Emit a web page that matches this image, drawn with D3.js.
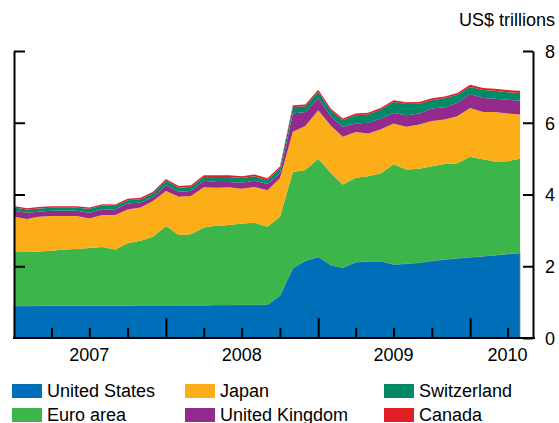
<!DOCTYPE html>
<html>
<head>
<meta charset="utf-8">
<script src="https://cdn.jsdelivr.net/npm/d3@7"></script>
<style>
  html, body { margin: 0; padding: 0; background: #fff; }
  svg { display: block; font-family: "Liberation Sans", Arial, Helvetica, sans-serif; }
</style>
</head>
<body>
<svg id="chart" width="559" height="423"></svg>
<script>
// ---- Data (US$ trillions, monthly) ----
const months = ["2007-01","2007-02","2007-03","2007-04","2007-05","2007-06","2007-07","2007-08","2007-09","2007-10","2007-11","2007-12",
  "2008-01","2008-02","2008-03","2008-04","2008-05","2008-06","2008-07","2008-08","2008-09","2008-10","2008-11","2008-12",
  "2009-01","2009-02","2009-03","2009-04","2009-05","2009-06","2009-07","2009-08","2009-09","2009-10","2009-11","2009-12",
  "2010-01","2010-02","2010-03","2010-04","2010-05"];

const unitedStates = [0.90,0.89,0.90,0.90,0.90,0.90,0.90,0.90,0.90,0.90,0.91,0.91,0.91,0.91,0.91,0.91,0.92,0.92,0.93,0.93,0.93,1.18,1.95,2.15,2.26,2.03,1.96,2.11,2.14,2.14,2.05,2.07,2.10,2.15,2.19,2.22,2.25,2.28,2.31,2.34,2.37];
const euroArea     = [1.50,1.51,1.51,1.53,1.57,1.58,1.61,1.64,1.57,1.74,1.80,1.91,2.21,1.96,1.98,2.17,2.21,2.23,2.26,2.28,2.17,2.20,2.68,2.53,2.74,2.56,2.32,2.36,2.37,2.45,2.79,2.63,2.62,2.64,2.66,2.65,2.80,2.70,2.61,2.59,2.63];
const japan        = [0.98,0.92,0.97,0.97,0.93,0.92,0.82,0.89,0.96,0.94,0.93,1.00,0.98,1.07,1.07,1.12,1.06,1.05,0.97,1.00,1.02,1.07,1.12,1.23,1.35,1.32,1.33,1.27,1.19,1.23,1.14,1.19,1.23,1.26,1.24,1.31,1.36,1.32,1.38,1.33,1.23];
const unitedKingdom= [0.17,0.17,0.14,0.15,0.15,0.15,0.16,0.16,0.15,0.17,0.14,0.10,0.16,0.14,0.14,0.18,0.16,0.15,0.17,0.17,0.17,0.14,0.51,0.39,0.33,0.26,0.28,0.24,0.30,0.30,0.29,0.32,0.31,0.35,0.34,0.37,0.39,0.39,0.37,0.38,0.38];
const switzerland  = [0.09,0.09,0.09,0.08,0.08,0.08,0.11,0.10,0.10,0.09,0.09,0.11,0.12,0.11,0.11,0.11,0.14,0.14,0.13,0.13,0.11,0.14,0.18,0.16,0.18,0.16,0.18,0.23,0.23,0.25,0.31,0.31,0.27,0.23,0.25,0.23,0.20,0.22,0.22,0.21,0.22];
const canada       = [0.04,0.04,0.04,0.04,0.04,0.04,0.04,0.04,0.04,0.04,0.04,0.05,0.05,0.05,0.05,0.05,0.05,0.05,0.05,0.05,0.05,0.05,0.05,0.05,0.06,0.05,0.05,0.05,0.05,0.05,0.05,0.05,0.05,0.05,0.05,0.05,0.06,0.06,0.06,0.06,0.06];

const seriesNames  = ["United States","Euro area","Japan","United Kingdom","Switzerland","Canada"];
const seriesColors = ["#006FBA","#3CB54A","#FBAE17","#922B8C","#008A68","#E31F26"];
const yTicks = [0,2,4,6,8];
const yearLabels = ["2007","2008","2009","2010"];
const unitLabel = "US$ trillions";

// ---- Build table ----
const parse = d3.utcParse("%Y-%m");
const allSeries = [unitedStates, euroArea, japan, unitedKingdom, switzerland, canada];
const table = months.map((m, i) => {
  const row = { date: parse(m) };
  seriesNames.forEach((k, j) => row[k] = allSeries[j][i]);
  return row;
});

const svg = d3.select("#chart");
const x = d3.scaleUtc().domain([parse("2007-01"), parse("2010-06")]).range([14, 533]);
const y = d3.scaleLinear().domain([0, 8]).range([338, 51]);

const stack = d3.stack().keys(seriesNames);
const layers = stack(table);
const area = d3.area()
  .x(d => x(d.data.date))
  .y0(d => y(d[0]))
  .y1(d => y(d[1]));

svg.append("g").selectAll("path")
  .data(layers)
  .join("path")
  .attr("d", area)
  .attr("fill", (d, i) => seriesColors[i])
  .attr("stroke", (d, i) => i === 0 ? "#8f9f8f" : "none")
  .attr("stroke-width", 0.6);

// ---- Axes ----
const axisStyle = g => {
  g.selectAll("path, line").attr("stroke", "#000").attr("stroke-width", 2);
};

// left axis: ticks inward, no labels
svg.append("g")
  .attr("transform", "translate(14,0)")
  .call(d3.axisRight(y).tickValues(yTicks.filter(v => v > 0)).tickSize(11).tickSizeOuter(0).tickFormat(""))
  .call(axisStyle);

// right axis: ticks inward, labels outside
const ra = svg.append("g")
  .attr("transform", "translate(533,0)")
  .call(d3.axisLeft(y).tickValues(yTicks).tickSize(10).tickSizeOuter(0).tickFormat(d3.format("d")))
  .call(axisStyle);
ra.selectAll("text")
  .attr("x", 12)
  .attr("dy", "0.36em")
  .attr("text-anchor", "start")
  .attr("fill", "#000")
  .attr("font-size", 18)
  .attr("font-family", "Liberation Sans, Arial, sans-serif");

// bottom axis: quarterly ticks inward, year ticks longer
const quarterTicks = d3.utcMonth.every(3).range(parse("2007-04"), parse("2010-06"));
const ba = svg.append("g")
  .attr("transform", "translate(0,338)")
  .call(d3.axisTop(x).tickValues(quarterTicks).tickSize(10).tickSizeOuter(0).tickFormat(""))
  .call(axisStyle);
ba.selectAll(".tick line")
  .attr("y2", d => d.getUTCMonth() === 0 ? -20 : -10);
ba.select(".domain").attr("d", "M13,0H535");

// year labels (centered on mid-year; last one on the partial year)
const yearLabelPos = [parse("2007-07"), parse("2008-07"), parse("2009-07"), parse("2010-04")];
svg.append("g").selectAll("text")
  .data(yearLabels)
  .join("text")
  .attr("x", (d, i) => x(yearLabelPos[i]))
  .attr("y", 361)
  .attr("text-anchor", "middle")
  .attr("font-size", 18)
  .attr("fill", "#000")
  .text(d => d);

// unit label
svg.append("text")
  .attr("x", 555).attr("y", 26)
  .attr("text-anchor", "end")
  .attr("font-size", 18)
  .attr("fill", "#000")
  .text(unitLabel);

// ---- Legend ----
const legendCols = [12, 185, 384];
const legendRows = [384, 408];
const order = [[0,0],[1,0],[0,1],[1,1],[0,2],[1,2]]; // [row, col] for each series
const lg = svg.append("g").selectAll("g")
  .data(seriesNames)
  .join("g")
  .attr("transform", (d, i) => `translate(${legendCols[order[i][1]]},${legendRows[order[i][0]]})`);
lg.append("rect")
  .attr("width", 30).attr("height", 14)
  .attr("fill", (d, i) => seriesColors[i]);
lg.append("text")
  .attr("x", 35).attr("y", 13)
  .attr("font-size", 18)
  .attr("fill", "#000")
  .text(d => d);
</script>
</body>
</html>
